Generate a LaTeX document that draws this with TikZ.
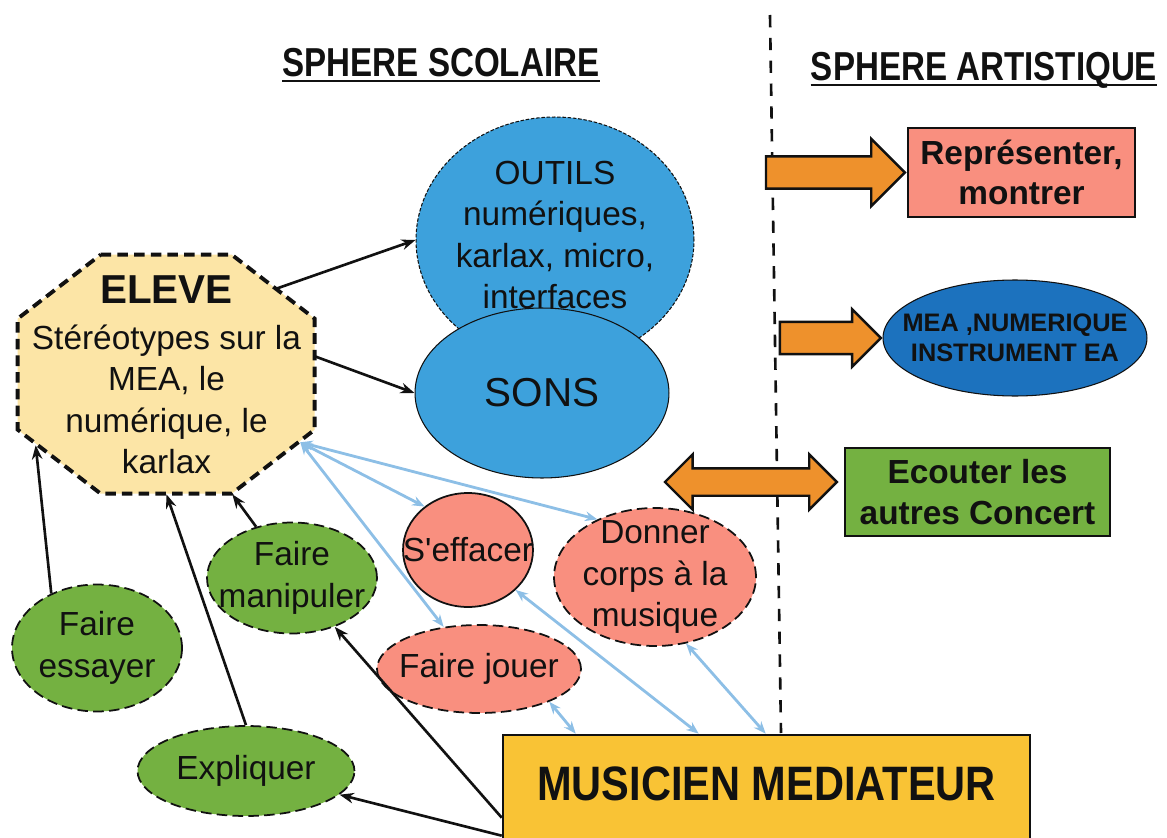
\documentclass[tikz,border=0pt]{standalone}
\usepackage{fontspec}
\setmainfont{Liberation Sans}
\newfontfamily\narrowfont{Liberation Sans}[FakeStretch=0.82]
\newfontfamily\midfont{Liberation Sans}[FakeStretch=0.86]
\usepackage{tikz}
\usetikzlibrary{arrows.meta,positioning,shapes.geometric,shapes.arrows,calc,backgrounds}
\definecolor{ink}{HTML}{111111}
\definecolor{sky}{HTML}{3DA1DC}
\definecolor{deep}{HTML}{1C72BE}
\definecolor{cream}{HTML}{FCE5A6}
\definecolor{salmon}{HTML}{F98F7F}
\definecolor{leaf}{HTML}{74B141}
\definecolor{amber}{HTML}{F9C335}
\definecolor{tang}{HTML}{EE912C}
\definecolor{pale}{HTML}{8DBFE6}
\tikzset{
  body/.style={font={\fontsize{19}{23.5}\selectfont},align=center,text=ink,inner sep=0pt},
  title/.style={font={\narrowfont\bfseries\fontsize{23}{27}\selectfont},text=ink,inner sep=0pt},
  uline/.style={draw=ink,line width=1.5pt},
  divider/.style={draw=ink,line width=1.5pt,dash pattern=on 7pt off 6pt},
  octo/.style={draw=ink,fill=cream,line width=2.2pt,dash pattern=on 6pt off 3.5pt},
  tool/.style={ellipse,fill=sky,draw=ink,line width=0.6pt,inner sep=0pt},
  verb/.style={ellipse,fill=leaf,draw=ink,line width=1pt,dash pattern=on 6pt off 3pt,inner sep=0pt},
  pose/.style={ellipse,fill=salmon,draw=ink,line width=1pt,dash pattern=on 6pt off 3pt,inner sep=0pt},
  card/.style={rectangle,draw=ink,line width=1.5pt,inner sep=0pt,align=center,text=ink,font={\bfseries\fontsize{19}{23}\selectfont}},
  fat/.style={single arrow,fill=tang,draw=ink,line width=1.4pt,inner xsep=0pt,single arrow tip angle=90},
  fat2/.style={double arrow,fill=tang,draw=ink,line width=1.4pt,inner xsep=0pt,double arrow tip angle=90},
  arrow/.style={-{Stealth[length=8pt,width=6pt]},line width=1.5pt,draw=ink},
  link/.style={{Stealth[length=7pt,width=5.5pt]}-{Stealth[length=7pt,width=5.5pt]},line width=1.6pt,draw=pale},
}
\begin{document}
\begin{tikzpicture}[x=0.02cm,y=-0.02cm]
  \useasboundingbox (0,0) rectangle (1167,838);
  \clip (0,0) rectangle (1167,838);
  \node[title,anchor=base] (scol) at (441,77) {SPHERE SCOLAIRE};
  \node[title,anchor=base] (arti) at (984,81) {SPHERE ARTISTIQUE};
  \draw[uline] ($(scol.base west)+(0,4)$) -- ($(scol.base east)+(0,4)$);
  \draw[uline] ($(arti.base west)+(0,4)$) -- ($(arti.base east)+(0,4)$);
  \coordinate (divtop) at (770,15);
  \coordinate (divbot) at (781,733);
  \draw[divider] (divtop) -- (divbot);

  \node[body,minimum width=5.94cm,minimum height=4.78cm] (eleve) at (166.5,374.5) {{\fontsize{23}{26}\selectfont\bfseries ELEVE}\\[3pt]Stéréotypes sur la\\MEA, le\\numérique, le\\karlax};
  \begin{scope}[on background layer]
    \draw[octo] ($(eleve.north west)+(83,0)$) -- ++(131,0) -- ++(83,64) -- ++(0,111) -- ++(-83,64) -- ++(-131,0) -- ++(-83,-64) -- ++(0,-111) -- cycle;
  \end{scope}
  \coordinate (eleve-ne) at ($(eleve.north east)+(-39,34)$);
  \coordinate (eleve-e) at ($(eleve.east)+(0,-18)$);
  \coordinate (eleve-se) at ($(eleve.south east)+(-15,-52)$);
  \coordinate (eleve-sw) at ($(eleve.south west)+(18,-49)$);
  \coordinate (eleve-sr) at ($(eleve.south east)+(-83,0)$);

  \node[tool,dash pattern=on 2pt off 1pt,minimum width=5.56cm,minimum height=4.92cm] (outils) at (555,240) {};
  \node[body] (outils-t) at (555,235) {OUTILS\\numériques,\\karlax, micro,\\interfaces};
  \node[tool,minimum width=5.08cm,minimum height=3.4cm] (sons) at (542,393) {};
  \node[body,font={\fontsize{23}{27}\selectfont}] (sons-t) at (sons) {SONS};

  \node[card,fill=salmon,minimum width=4.54cm,minimum height=1.78cm] (repr) at (1021.5,172.5) {Représenter,\\montrer};
  \node[tool,fill=deep,minimum width=5.28cm,minimum height=2.32cm] (mea) at (1015,338) {};
  \node[body,font={\bfseries\fontsize{14.4}{17}\selectfont}] (mea-t) at (mea) {MEA ,NUMERIQUE\\INSTRUMENT EA};
  \node[card,fill=leaf,minimum width=5.3cm,minimum height=1.76cm] (ecouter) at (977.5,492) {Ecouter les\\autres Concert};
  \node[fat,minimum height=2.78cm,inner ysep=0.3cm,single arrow head extend=0.35cm,anchor=tip] (toRepr) at (repr.west) {};
  \node[fat,minimum height=2.02cm,inner ysep=0.3cm,single arrow head extend=0.25cm,anchor=tip] (toMea) at (mea.west) {};
  \node[fat2,minimum height=3.44cm,inner ysep=0.25cm,double arrow head extend=0.28cm,left=0.1cm of ecouter,yshift=0.2cm] (both) {};

  \node[card,fill=amber,minimum width=10.54cm,text height=1.3cm,text depth=1.3cm,anchor=base,font={\midfont\bfseries\fontsize{27.5}{32}\selectfont}] (musicien) at (766.5,800) {MUSICIEN MEDIATEUR};
  \coordinate (m-jouer) at ($(musicien.north west)+(74,0)$);
  \coordinate (m-efface) at ($(musicien.north west)+(197,0)$);
  \coordinate (m-donner) at ($(musicien.north west)+(264,0)$);
  \coordinate (m-manip) at ($(musicien.north west)+(0,84)$);
  \coordinate (m-expl) at ($(musicien.north west)+(0,102)$);

  \node[verb,minimum width=3.4cm,minimum height=2.22cm] (manip) at (292,578) {};
  \node[body] (manip-t) at (manip) {Faire\\manipuler};
  \node[verb,minimum width=3.4cm,minimum height=2.54cm] (essayer) at (97,648) {};
  \node[body] (essayer-t) at (essayer) {Faire\\essayer};
  \node[verb,minimum width=4.34cm,minimum height=1.8cm] (expl) at (246,771) {};
  \node[body] (expl-t) at (expl) {Expliquer};
  \node[pose,solid,minimum width=2.6cm,minimum height=2.28cm] (efface) at (468,550) {};
  \node[body] (efface-t) at (efface) {S\textquotesingle effacer};
  \node[pose,minimum width=4.04cm,minimum height=2.76cm] (donner) at (655,577) {};
  \node[body] (donner-t) at (donner) {Donner\\corps à la\\musique};
  \node[pose,minimum width=4.08cm,minimum height=1.76cm] (jouer) at (479,669) {};
  \node[body] (jouer-t) at (jouer) {Faire jouer};

  \draw[arrow] (eleve-ne) -- (outils.west);
  \draw[arrow] (eleve-e) -- (sons.west);
  \draw[arrow] (essayer.130) -- (eleve-sw);
  \draw[arrow] (expl.north) -- (eleve.south);
  \draw[arrow] (manip.125) -- (eleve-sr);
  \draw[arrow] (m-manip) -- (manip);
  \draw[arrow] (m-expl) -- (expl);
  \draw[link] (eleve-se) -- (efface.135);
  \draw[link] (eleve-se) -- (donner.135);
  \draw[link] (eleve-se) -- (jouer.130);
  \draw[link] (efface.-40) -- (m-efface);
  \draw[link] (donner.-65) -- (m-donner);
  \draw[link] (jouer.-25) -- (m-jouer);
\end{tikzpicture}
\end{document}
